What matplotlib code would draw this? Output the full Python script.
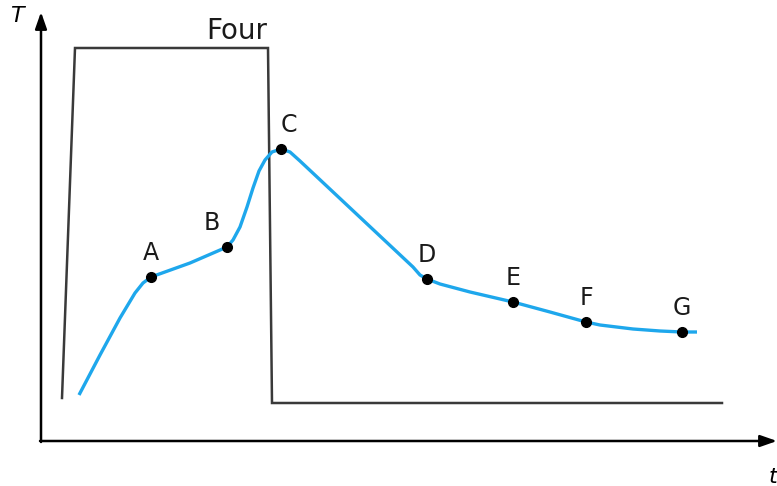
import matplotlib.pyplot as plt

### Data (time, temperature) ###
# furnace profile
four_t = [62, 75, 268, 272, 722]
four_T = [88, 438, 438, 83, 83]

# part temperature curve
curve_t = [79, 100, 120, 135, 143, 151, 190, 227, 233, 240, 247, 253, 259, 265, 272, 281, 290, 300,
           413, 420, 427, 440, 470, 513, 550, 586, 600, 633, 660, 682, 697]
curve_T = [91, 131, 168, 193, 203, 209, 223, 239, 246, 259, 279, 298, 315, 326, 334, 337, 334, 325,
           219, 211, 207, 202, 194, 184, 174, 164, 161, 157, 155, 154, 154]

# labelled points
pt_names = ['A', 'B', 'C', 'D', 'E', 'F', 'G']
pt_t = [151, 227, 281, 427, 513, 586, 682]
pt_T = [209, 239, 337, 207, 184, 164, 154]

### Figure ###
fig = plt.figure(figsize=(7.77, 4.86), dpi=100)
ax = fig.add_axes([0, 0, 1, 1])
ax.set_xlim(0, 777)
ax.set_ylim(0, 486)
ax.axis('off')

## Axes with arrows
ax.annotate('', xy=(41, 474), xytext=(41, 44),
            arrowprops=dict(arrowstyle='-|>,head_length=1.0,head_width=0.35', color='black', lw=1.8,
                            shrinkA=0, shrinkB=0))
ax.annotate('', xy=(777, 45), xytext=(40, 45),
            arrowprops=dict(arrowstyle='-|>,head_length=1.0,head_width=0.35', color='black', lw=1.8,
                            shrinkA=0, shrinkB=0))
ax.text(17, 470, 'T', fontsize=16, style='italic', ha='center', va='center')
ax.text(773, 9, 't', fontsize=16, style='italic', ha='center', va='center')

## Furnace
ax.plot(four_t, four_T, color='#3a3a3a', lw=1.8, solid_joinstyle='miter')
ax.text(237, 455, 'Four', fontsize=20, ha='center', va='center', color='#1a1a1a')

## Curve and points
ax.plot(curve_t, curve_T, color='#1ea7ec', lw=2.4, solid_joinstyle='round', solid_capstyle='butt')
ax.plot(pt_t, pt_T, 'o', color='black', markersize=7)
for n, x, y in zip(pt_names, pt_t, pt_T):
    dx = 6 if n == 'C' else (-11 if n == 'B' else 0)
    ax.annotate(n, (x, y), textcoords='offset points', xytext=(dx, 17),
                ha='center', va='center', fontsize=17, color='#1a1a1a')

fig.savefig('out.png', dpi=100)
